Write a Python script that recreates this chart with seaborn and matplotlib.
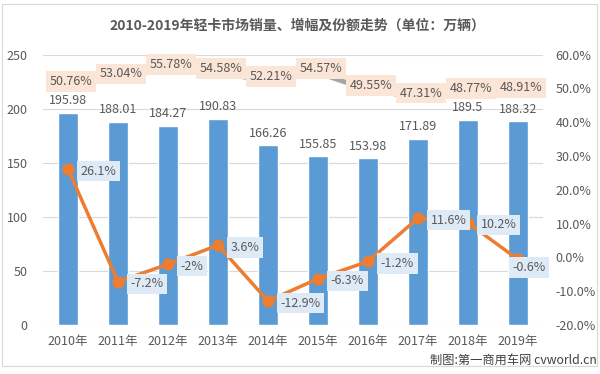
import numpy as np
import pandas as pd
import matplotlib
matplotlib.use("Agg")
import matplotlib.pyplot as plt
from matplotlib.patches import Rectangle
import seaborn as sns

# data
years = ['2010年', '2011年', '2012年', '2013年', '2014年',
         '2015年', '2016年', '2017年', '2018年', '2019年']
sales = [195.98, 188.01, 184.27, 190.83, 166.26, 155.85, 153.98, 171.89, 189.5, 188.32]
growth = [26.1, -7.2, -2, 3.6, -12.9, -6.3, -1.2, 11.6, 10.2, -0.6]
share = [50.76, 53.04, 55.78, 54.58, 52.21, 54.57, 49.55, 47.31, 48.77, 48.91]

left_ticks = [0, 50, 100, 150, 200, 250]
right_ticks = [-20, -10, 0, 10, 20, 30, 40, 50, 60]

title = '2010-2019年轻卡市场销量、增幅及份额走势（单位：万辆）'
credit = '制图:第一商用车网 cvworld.cn'

BAR_C = '#5B9BD5'
ORANGE = '#ED7D31'
GREY = '#A5A5A5'
TXT = '#595959'

sns.set_theme(style='white')
plt.rcParams['font.family'] = ['Noto Sans CJK SC', 'DejaVu Sans']

df = pd.DataFrame({'year': years, 'sales': sales, 'growth': growth, 'share': share})

fig = plt.figure(figsize=(6, 3.74), dpi=100)
ax = fig.add_axes([43 / 600, 1 - 325 / 374, 500 / 600, 270.5 / 374])

sns.barplot(data=df, x='year', y='sales', color=BAR_C, width=0.41,
            saturation=1, ax=ax, zorder=2)
ax.set_xlim(-0.5, 9.5)
ax.set_ylim(0, 250)
ax.set_yticks(left_ticks)
ax.set_xlabel('')
ax.set_ylabel('')
ax.grid(axis='y', color='#D9D9D9', lw=0.8, zorder=0)
ax.set_axisbelow(True)
for s in ax.spines.values():
    s.set_visible(False)
ax.tick_params(axis='both', length=0, colors=TXT, labelsize=9)
ax.tick_params(axis='y', pad=11)
ax.tick_params(axis='x', pad=7)

for i, v in enumerate(sales):
    ax.annotate(f'{v:g}', (i, v), xytext=(0, 4), textcoords='offset points',
                ha='center', va='bottom', fontsize=9, color=TXT)

ax2 = ax.twinx()
ax2.set_ylim(-20, 60)
ax2.set_yticks(right_ticks)
ax2.set_yticklabels([f'{t:.1f}%' for t in right_ticks])
for s in ax2.spines.values():
    s.set_visible(False)
ax2.tick_params(axis='y', length=0, colors=TXT, labelsize=9, pad=9)

xs = np.arange(len(years))
sns.lineplot(x=xs, y=share, ax=ax2, color=GREY, lw=3.5, zorder=3)
sns.lineplot(x=xs, y=growth, ax=ax2, color=ORANGE, lw=2.5, marker='o',
             markersize=8, markeredgecolor=ORANGE, zorder=4)
ax2.set_xlim(-0.5, 9.5)

for i, v in enumerate(share):
    ax2.annotate(f'{v:.2f}%', (i, v), xytext=(2, 3), textcoords='offset points',
                 ha='center', va='center', fontsize=9, color=TXT, zorder=5,
                 bbox=dict(boxstyle='square,pad=0.3', fc='#FBE5D6', ec='none'))

for i, v in enumerate(growth):
    # last label sits below-right of its point, the rest to the right
    off = (-4, -6) if i == len(growth) - 1 else (9, -1.5)
    ax2.annotate(f'{v:g}%', (i, v), xytext=off, textcoords='offset points',
                 ha='left', va='center', fontsize=9, color=TXT, zorder=6,
                 bbox=dict(boxstyle='square,pad=0.3', fc='#DEEBF7', ec='none'))

fig.text(0.495, 1 - 26 / 374, title, ha='center', va='center', fontsize=10,
         fontweight='bold', color=TXT)
fig.text(597 / 600, 1 - 360 / 374, credit, ha='right', va='center',
         fontsize=8.8, color='#404040')

fig.patches.append(Rectangle((2 / 600, 1 - 366 / 374), 595 / 600, 362 / 374,
                             transform=fig.transFigure, fill=False,
                             ec='#D9D9D9', lw=0.8))

fig.savefig('out.png', dpi=100)
